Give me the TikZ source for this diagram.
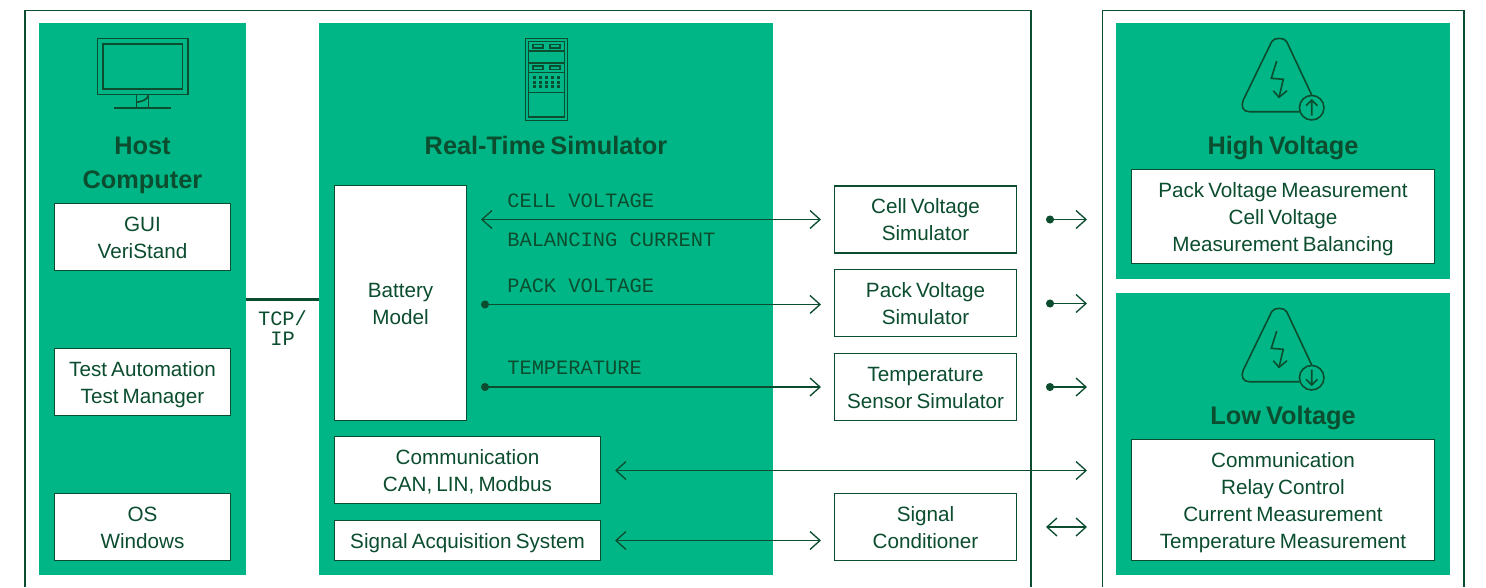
\documentclass[tikz,border=0pt]{standalone}
\usepackage{fontspec}
\setmainfont{Liberation Sans}[WordSpace=0.72]
\setmonofont{Liberation Mono}
\usetikzlibrary{arrows.meta}
\definecolor{pgreen}{HTML}{00B686}
\definecolor{dgreen}{HTML}{0B4D2E}
\tikzset{
  x=0.75pt,y=-0.75pt,
  sz/.style 2 args={minimum width=#1*0.75pt,minimum height=#2*0.75pt,inner sep=0pt,outer sep=0pt},
  bl/.style={text height=2*#1*0.75pt,text depth=0pt},
  panel/.style={fill=pgreen,draw=none},
  wbox/.style={fill=white,draw=dgreen,line width=0.9pt,align=center,text=dgreen,
    font=\fontsize{15.5}{20.25}\selectfont},
  heading/.style={align=center,text=dgreen,inner sep=0pt,font=\fontsize{19}{25.5}\selectfont\bfseries},
  mono/.style={anchor=west,inner sep=0pt,text=dgreen,font=\fontsize{15.3}{15}\selectfont\ttfamily},
  frame/.style={draw=dgreen,line width=1pt},
  icon/.style={draw=dgreen,line width=1.2pt},
  link/.style={draw=dgreen,line width=1pt},
  ar/.style={link,-{Straight Barb[length=7.5pt,width=13.5pt,line width=1pt]}},
  biar/.style={link,{Straight Barb[length=7.5pt,width=13.5pt,line width=1pt]}-{Straight Barb[length=7.5pt,width=13.5pt,line width=1pt]}},
  dotar/.style={link,{Circle[length=6pt,width=6pt]}-{Straight Barb[length=7.5pt,width=13.5pt,line width=1pt]}},
  gapL/.style={shorten <=#1*0.75pt},
  gapR/.style={shorten >=#1*0.75pt},
}
\begin{document}
\begin{tikzpicture}
\useasboundingbox (0,0) rectangle (1486,587);
% frames
\draw[frame] (25,587) -- (25,10.5) -- (1031,10.5) -- (1031,587);
\draw[frame] (1102.5,587) -- (1102.5,10.5) -- (1464,10.5) -- (1464,587);
% panels
\node[panel,sz={207}{552}] (host) at (142.5,299) {};
\node[panel,sz={454}{552}] (rts) at (546,299) {};
\node[panel,sz={334}{256}] (hv) at (1283,151) {};
\node[panel,sz={334}{282}] (lv) at (1283,434) {};
% headings
\node[heading] (hosttitle) at (142.5,165) {Host\\Computer};
\node[heading] (rtstitle) at (546,145) {Real-Time Simulator};
\node[heading] (hvtitle) at (1283,147.5) {High Voltage};
\node[heading] (lvtitle) at (1283,417.5) {Low Voltage};
% white boxes
\node[wbox,sz={176}{67},bl=21] (gui) at (142.5,237) {GUI\\VeriStand};
\node[wbox,sz={176}{67},bl=21] (test) at (142.5,382) {Test Automation\\Test Manager};
\node[wbox,sz={176}{67},bl=21] (os) at (142.5,527) {OS\\Windows};
\node[wbox,sz={132}{235},bl=21] (battery) at (400.5,303) {Battery\\Model};
\node[wbox,sz={266}{67},bl=21] (comm) at (467.5,470) {Communication\\CAN, LIN, Modbus};
\node[wbox,sz={266}{40},bl=7.5] (sas) at (467.5,540.5) {Signal Acquisition System};
\node[wbox,sz={182}{67},bl=20.5] (cellsim) at (925.5,219.5) {Cell Voltage\\Simulator};
\node[wbox,sz={182}{67},bl=21] (packsim) at (925.5,303) {Pack Voltage\\Simulator};
\node[wbox,sz={182}{67},bl=21] (tempsim) at (925.5,387) {Temperature\\Sensor Simulator};
\node[wbox,sz={182}{67},bl=21] (signal) at (925.5,527) {Signal\\Conditioner};
\node[wbox,sz={303}{94},bl=34.5] (hvbox) at (1283,216.5) {Pack Voltage Measurement\\Cell Voltage\\Measurement Balancing};
\node[wbox,sz={303}{121},bl=48] (lvbox) at (1283,500) {Communication\\Relay Control\\Current Measurement\\Temperature Measurement};
% signal labels
\node[mono] (l1) at (507,201) {CELL VOLTAGE};
\node[mono] (l2) at (507,240) {BALANCING CURRENT};
\node[mono] (l3) at (507,286) {PACK VOLTAGE};
\node[mono] (l4) at (507,368) {TEMPERATURE};
\node[text=dgreen,align=center,inner sep=0pt,font=\fontsize{15.3}{15}\selectfont\ttfamily] (tcp) at (282.5,328.5) {TCP/\\IP};
% connectors
\coordinate (tcpa) at (host.east |- 0,299);
\coordinate (tcpb) at (rts.west |- 0,299);
\draw[link,line width=2.25pt] (tcpa) -- (tcpb);
\draw[biar,gapL=14.5,gapR=13.5] (battery.east |- cellsim.west) -- (cellsim.west);
\draw[dotar,gapL=14.5,gapR=13.5] ([yshift=-1.1pt]battery.east |- packsim.west) -- ([yshift=-1.1pt]packsim.west);
\draw[dotar,gapL=14.5,gapR=13.5] (battery.east |- tempsim.west) -- (tempsim.west);
\coordinate (commend) at (1087,470.5);
\draw[biar,gapL=14.5] (comm.east |- commend) -- (commend);
\draw[biar,gapL=14.5,gapR=13.5] (sas.east) -- (signal.west |- sas.east);
\coordinate (r1a) at (1046,219.5); \coordinate (r1b) at (1087,219.5);
\coordinate (r2a) at (1046,303.5); \coordinate (r2b) at (1087,303.5);
\coordinate (r3a) at (1046,387); \coordinate (r3b) at (1087,387);
\coordinate (r4a) at (1046,527); \coordinate (r4b) at (1087,527);
\draw[dotar] (r1a) -- (r1b);
\draw[dotar] (r2a) -- (r2b);
\draw[dotar] (r3a) -- (r3b);
\draw[biar] (r4a) -- (r4b);
% monitor icon
\draw[icon] (97.3,38.3) rectangle (187.7,94.3);
\draw[icon] (102.7,43.7) rectangle (182.3,89);
\draw[icon] (136.3,94.3) -- (136.3,107.7) (148.3,94.3) -- (148.3,107.7) (114,107.7) -- (170.7,107.7);
\draw[icon] (136.3,102.3) .. controls (142,101.5) and (147,100) .. (148.3,95.5);
% rack icon
\draw[icon] (525.3,38.3) rectangle (567.3,120.3);
\draw[icon] (528.3,41.3) rectangle (564.3,116.7);
\draw[icon] (528.3,51) -- (564.3,51) (528.3,62.7) -- (564.3,62.7) (528.3,72.3) -- (564.3,72.3) (528.3,92.3) -- (564.3,92.3);
\foreach \yy in {44.3,65.7}{
  \draw[icon] (533,\yy) rectangle ++(10,3.8);
  \draw[icon] (549.7,\yy) rectangle ++(10,3.8);
}
\foreach \xx in {534,540,546.3,552.3,558.7}{\foreach \yy in {77.3,82,86.7}{
  \fill[dgreen] (\xx-1.5,\yy-1.5) rectangle ++(3,3);
}}
% warning icons
\foreach \dy/\up in {0/1,270/0}{
\begin{scope}[yshift=-\dy*0.75pt]
  \draw[icon] (1311.7,95) -- (1286.7,41.7) .. controls (1284.6,37.2) and (1273.8,37.2) .. (1271.7,41.7)
     -- (1243.3,100) .. controls (1240.5,106) and (1243,112) .. (1249.3,111.7) -- (1299.4,111.7);
  \draw[icon,line join=miter] (1276.7,61) -- (1271.3,78.3) -- (1283.3,79.3) -- (1279,97.3);
  \draw[icon] (1273.3,90.7) -- (1279,97.3) -- (1287,90.7);
  \draw[icon] (1311.7,107.7) circle [radius=9.2pt];
  \ifnum\up=1
    \draw[icon] (1311.7,115.5) -- (1311.7,100) (1306,105.7) -- (1311.7,100) -- (1317.4,105.7);
  \else
    \draw[icon] (1311.7,99.5) -- (1311.7,115) (1306,109.3) -- (1311.7,115) -- (1317.4,109.3);
  \fi
\end{scope}
}
\end{tikzpicture}
\end{document}
